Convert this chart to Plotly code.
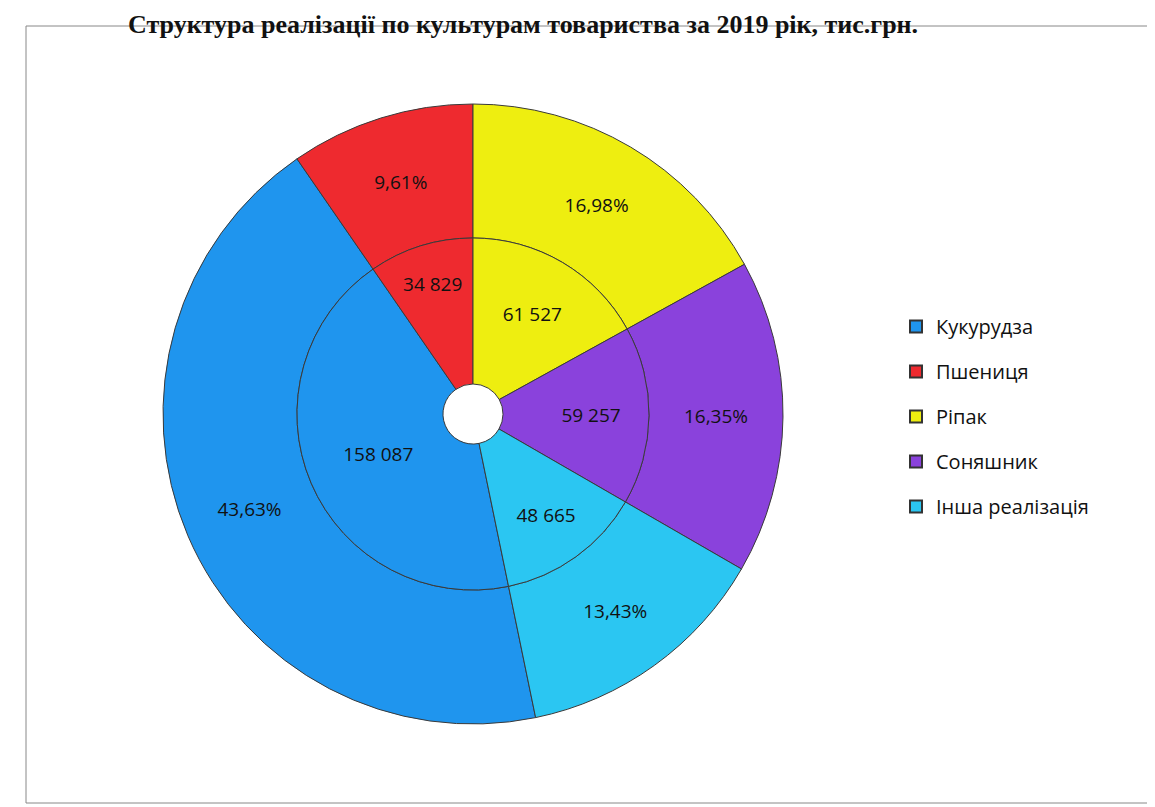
import plotly.graph_objects as go

labels = ["Кукурудза", "Пшениця", "Ріпак", "Соняшник", "Інша реалізація"]
values = [158087, 34829, 61527, 59257, 48665]
colors = ["#1F95EE", "#EE2A2F", "#EEEE10", "#8A42DC", "#2BC6F2"]

total = sum(values)
pct_text = [f"{v / total * 100:.2f}".replace(".", ",") + "%" for v in values]
val_text = [f"{v:,}".replace(",", " ") for v in values]

W, H = 1155, 807
cx, cy = 465, 406
r_out, r_mid, r_hole = 310, 176, 30


def dom(r):
    return dict(x=[(cx - r) / W, (cx + r) / W], y=[(H - cy - r) / H, (H - cy + r) / H])


rotation = 360 - (values[0] + values[1]) / total * 360
font_txt = dict(family="Open Sans, DejaVu Sans, sans-serif", size=19, color="#111111")

fig = go.Figure()
fig.add_trace(go.Pie(
    labels=labels, values=values, text=pct_text, textinfo="text",
    textposition="inside", insidetextorientation="horizontal",
    hole=r_mid / r_out, domain=dom(r_out), sort=False, direction="clockwise",
    rotation=rotation, marker=dict(colors=colors, line=dict(color="#3a3a3a", width=1)),
    textfont=font_txt, showlegend=False, hoverinfo="label+value+percent",
))
fig.add_trace(go.Pie(
    labels=labels, values=values, text=val_text, textinfo="text",
    textposition="inside", insidetextorientation="horizontal",
    hole=r_hole / r_mid, domain=dom(r_mid), sort=False, direction="clockwise",
    rotation=rotation, marker=dict(colors=colors, line=dict(color="#3a3a3a", width=1)),
    textfont=font_txt, showlegend=False, hoverinfo="label+value+percent",
))

# legend entries (square markers), one group per category for spacing control
for lab, col in zip(labels, colors):
    fig.add_trace(go.Scatter(
        x=[None], y=[None], mode="markers", name=lab, legendgroup=lab,
        marker=dict(symbol="square", size=12, color=col, line=dict(color="#333333", width=1)),
        showlegend=True,
    ))

fig.add_shape(type="rect", xref="paper", yref="paper",
              x0=18 / W, x1=1140 / W, y0=(H - 795) / H, y1=(H - 18) / H,
              line=dict(color="#888888", width=1))

fig.add_annotation(
    text="<b>Структура реалізації по культурам товариства за 2019 рік, тис.грн.</b>",
    xref="paper", yref="paper", x=515 / W, y=1, xanchor="center", yanchor="top",
    showarrow=False, font=dict(family="Liberation Serif, Times New Roman, serif", size=26, color="#111111"),
)

fig.update_layout(
    width=W, height=H, margin=dict(l=0, r=0, t=0, b=0),
    paper_bgcolor="white", plot_bgcolor="white",
    xaxis=dict(visible=False), yaxis=dict(visible=False),
    legend=dict(x=888 / W, y=(H - 299) / H, xanchor="left", yanchor="top",
                font=dict(family="Open Sans, DejaVu Sans, sans-serif", size=20, color="#111111"),
                tracegroupgap=16, itemsizing="constant", itemwidth=30),
)

fig.write_html("out.html")
